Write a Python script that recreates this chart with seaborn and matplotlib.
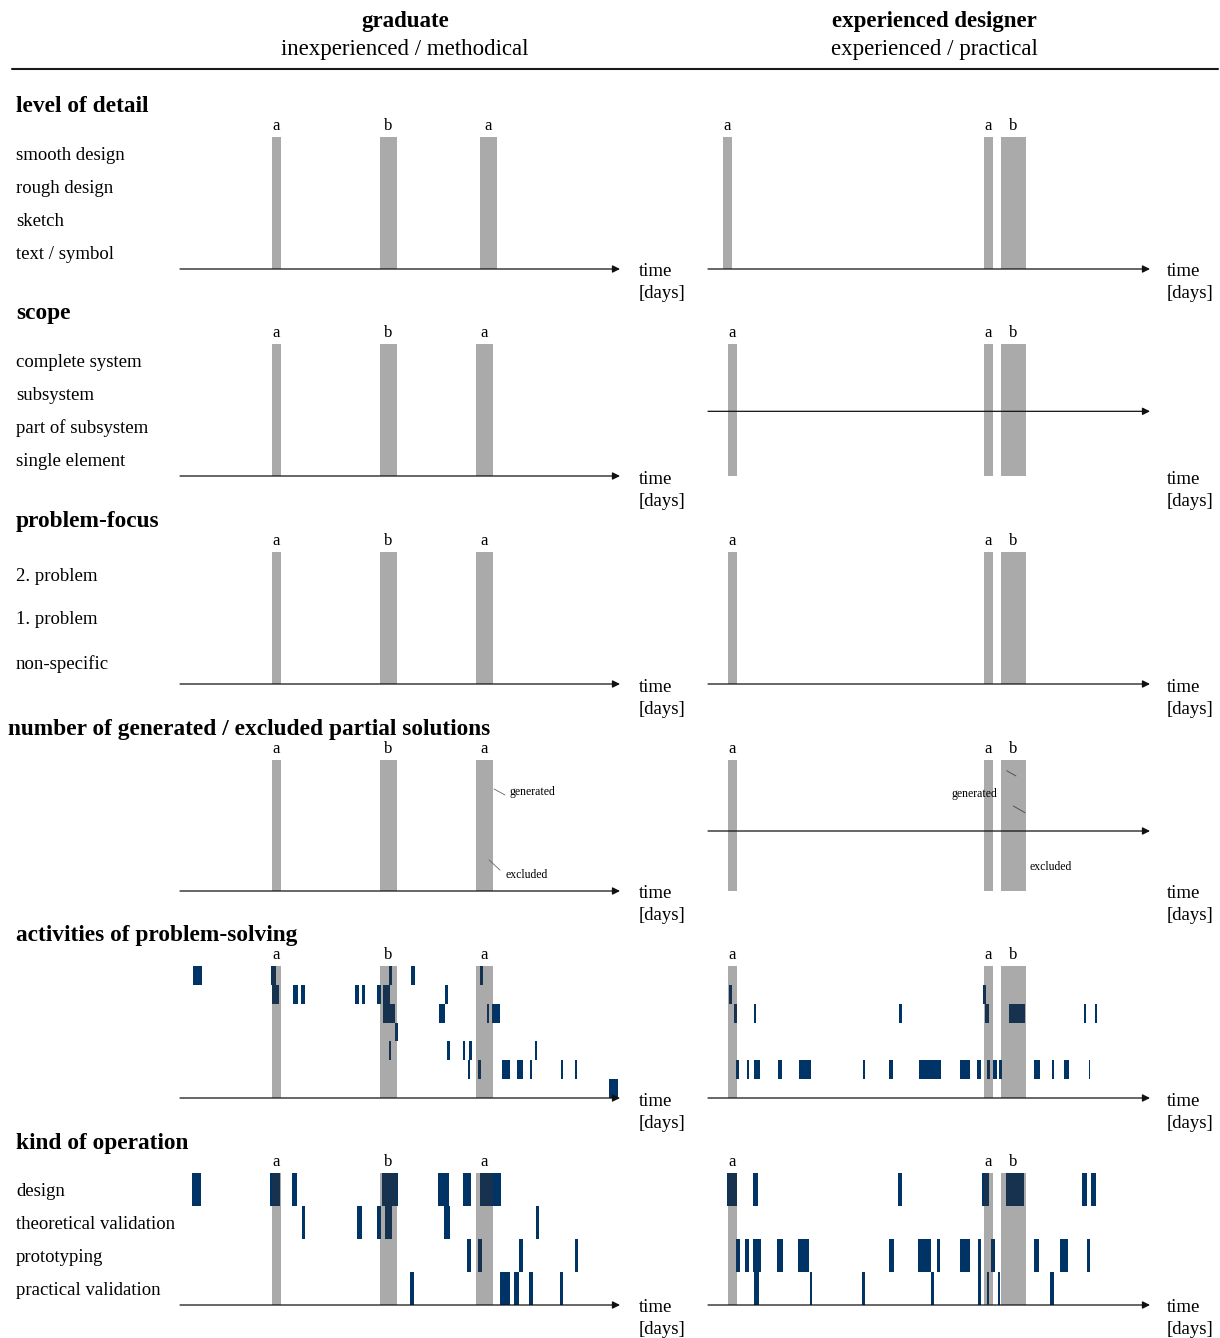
import numpy as np
import pandas as pd
import matplotlib.pyplot as plt
import seaborn as sns
from matplotlib import transforms
from matplotlib.lines import Line2D

#Texts
col_titles = ["graduate", "experienced designer"]
col_subtitles = ["inexperienced / methodical", "experienced / practical"]
section_titles = ["level of detail", "scope", "problem-focus",
                  "number of generated / excluded partial solutions",
                  "activities of problem-solving", "kind of operation"]
detail_levels = ["smooth design", "rough design", "sketch", "text / symbol"]
scope_levels = ["complete system", "subsystem", "part of subsystem", "single element"]
focus_levels = ["2. problem", "1. problem", "non-specific"]
operation_kinds = ["design", "theoretical validation", "prototyping", "practical validation"]

#Phases (days): label, start, end
grad_phase_labels = ["a", "b", "a"]
grad_phase_start = [9.2, 20.0, 29.6]
grad_phase_end = [10.1, 21.7, 31.3]
grad_phase_start_detail = [9.2, 20.0, 30.0]
grad_phase_end_detail = [10.1, 21.7, 31.7]
exp_phase_labels = ["a", "a", "b"]
exp_phase_start = [2.0, 27.6, 29.3]
exp_phase_end = [2.9, 28.5, 31.8]
exp_phase_start_detail = [1.5, 27.6, 29.3]
exp_phase_end_detail = [2.4, 28.5, 31.8]

#Activities of problem-solving, 7 rows top to bottom, (start, end) in days
grad_activity = [
    [(1.33, 2.17), (9.07, 9.6), (20.9, 21.23), (23.07, 23.5), (30.0, 30.33)],
    [(9.17, 9.93), (11.33, 11.77), (12.1, 12.47), (17.5, 17.9), (18.17, 18.5),
     (19.7, 20.1), (20.33, 21.0), (26.5, 26.77)],
    [(20.27, 21.5), (25.9, 26.53), (30.67, 30.9), (31.17, 32.0)],
    [(21.53, 21.8)],
    [(20.9, 21.1), (26.73, 27.0), (28.33, 28.53), (28.93, 29.17), (35.53, 35.73)],
    [(28.77, 29.0), (29.83, 30.07), (32.2, 33.0), (33.67, 34.27), (35.0, 35.2),
     (38.07, 38.27), (39.53, 39.73)],
    [(42.9, 43.77)],
]
exp_activity = [
    [],
    [(2.1, 2.37), (27.53, 27.8)],
    [(2.6, 2.87), (4.6, 4.8), (19.1, 19.37), (27.73, 28.07), (30.13, 31.7),
     (37.6, 37.8), (38.67, 38.93)],
    [],
    [],
    [(2.8, 3.07), (3.87, 4.13), (4.6, 5.2), (7.03, 7.37), (9.1, 10.3), (15.53, 15.73),
     (18.13, 18.47), (21.13, 23.27), (25.2, 26.2), (26.93, 27.3), (27.93, 28.2),
     (28.53, 28.87), (29.13, 29.4), (32.63, 33.2), (34.43, 34.63), (35.6, 36.07),
     (38.07, 38.23)],
    [],
]

#Kind of operation, 4 rows top to bottom
grad_operation = [
    [(1.2, 2.13), (9.0, 10.0), (11.2, 11.73), (20.23, 21.8), (25.8, 26.93),
     (28.33, 29.07), (30.0, 32.13)],
    [(12.2, 12.47), (17.67, 18.23), (19.7, 20.13), (20.5, 21.2), (26.4, 27.0),
     (35.6, 35.93)],
    [(28.67, 29.07), (29.83, 30.17), (33.87, 34.27), (39.53, 39.8)],
    [(23.0, 23.4), (32.0, 33.0), (33.4, 33.87), (34.93, 35.27), (38.0, 38.33)],
]
exp_operation = [
    [(1.87, 2.87), (4.53, 5.03), (19.03, 19.4), (27.37, 28.13), (29.77, 31.6),
     (37.37, 37.93), (38.27, 38.8)],
    [],
    [(2.8, 3.2), (3.7, 4.1), (4.53, 5.33), (6.87, 7.47), (8.97, 10.13), (18.13, 18.6),
     (20.97, 22.3), (22.9, 23.17), (25.17, 26.23), (26.97, 27.3), (28.3, 28.73),
     (32.57, 33.07), (35.23, 36.03), (37.87, 38.2)],
    [(4.6, 5.07), (10.17, 10.4), (15.37, 15.67), (22.33, 22.57), (26.97, 27.27),
     (27.87, 28.13), (28.97, 29.23), (34.2, 34.57)],
]

GRAY = '#aaaaaa'
BLUE = '#003366'
BLUE_ON_GRAY = '#16324f'

sns.set_theme(style='white')
plt.rcParams['font.family'] = ['Liberation Serif', 'DejaVu Serif']
plt.rcParams['text.color'] = 'black'

W, H = 1220, 1338
fig = plt.figure(figsize=(W / 100, H / 100), dpi=100)

def add_ax(x0, x1, ytop, ybot):
    return fig.add_axes([x0 / W, 1 - ybot / H, (x1 - x0) / W, (ybot - ytop) / H])

def fy(y):
    return 1 - y / H

#Header
for cx, t, st in zip([405, 934], col_titles, col_subtitles):
    fig.text(cx / W, fy(21.5), t, ha='center', va='center', fontsize=16.5, weight='bold')
    fig.text(cx / W, fy(49.5), st, ha='center', va='center', fontsize=16.5)
fig.add_artist(Line2D([12 / W, 1218 / W], [fy(69), fy(69)], color='k', lw=1.5))

section_top = [137, 344, 552, 760, 966, 1173]
section_axis = [269, 476, 684, 891, 1098, 1305]
section_rows = [detail_levels, scope_levels, focus_levels, None, None, operation_kinds]
n_rows = [4, 4, 3, 1, 7, 4]
right_arrow_frac = [0, 0.49, 0, 0.458, 0, 0]

for s in range(6):
    top, bot, n = section_top[s], section_axis[s], n_rows[s]
    fig.text((8 if s == 3 else 16) / W, fy(top - 30), section_titles[s],
             ha='left', va='center', fontsize=16.8, weight='bold')
    axL = add_ax(180, 620, top, bot)
    axR = add_ax(708, 1150, top, bot)
    if s == 0:
        phases = [(grad_phase_labels, grad_phase_start_detail, grad_phase_end_detail),
                  (exp_phase_labels, exp_phase_start_detail, exp_phase_end_detail)]
    else:
        phases = [(grad_phase_labels, grad_phase_start, grad_phase_end),
                  (exp_phase_labels, exp_phase_start, exp_phase_end)]
    for k, (ax, (labs, st, en)) in enumerate(zip([axL, axR], phases)):
        ax.set_xlim(0, 44 if k == 0 else 44.2)
        ax.set_ylim(0, n)
        ax.set_axis_off()
        st, en = np.array(st), np.array(en)
        ax.bar(st, n, width=en - st, align='edge', color=GRAY, linewidth=0, zorder=1)
        for lab, a, b in zip(labs, st, en):
            ax.annotate(lab, xy=((a + b) / 2, n), xytext=(0, 5), textcoords='offset points',
                        ha='center', va='baseline', fontsize=12, annotation_clip=False)
        ay = n * (right_arrow_frac[s] if k == 1 else 0)
        ax.annotate('', xy=(1.0, ay), xycoords=('axes fraction', 'data'),
                    xytext=(0.0, ay), textcoords=('axes fraction', 'data'),
                    arrowprops=dict(arrowstyle='-|>', color='#111111', lw=0.9,
                                    mutation_scale=11, shrinkA=0, shrinkB=0),
                    annotation_clip=False)
        tx = 639 if k == 0 else 1167
        fig.text(tx / W, fy(bot + 3), 'time', ha='left', va='center', fontsize=13.5)
        fig.text(tx / W, fy(bot + 25), '[days]', ha='left', va='center', fontsize=13.5)

    #row labels
    if section_rows[s] is not None:
        tr = transforms.blended_transform_factory(fig.transFigure, axL.transData)
        tr = tr + transforms.ScaledTranslation(0, -2 / 100, fig.dpi_scale_trans)
        for i, lab in enumerate(section_rows[s]):
            axL.text(16 / W, n - i - 0.5, lab, transform=tr, ha='left', va='center',
                     fontsize=13.5)

    #blue segments, darker where they lie on a phase bar
    if s in (4, 5):
        data = [grad_activity, exp_activity] if s == 4 else [grad_operation, exp_operation]
        for ax, rows, (labs, pst, pen) in zip([axL, axR], data, phases):
            for i, row in enumerate(rows):
                if not row:
                    continue
                seg = pd.DataFrame(row, columns=['start', 'end'])
                ax.barh(n - 1 - i, seg['end'] - seg['start'], left=seg['start'], height=1,
                        align='edge', color=BLUE, linewidth=0, zorder=2)
                for p0, p1 in zip(pst, pen):
                    lo = np.maximum(seg['start'], p0)
                    hi = np.minimum(seg['end'], p1)
                    keep = hi > lo
                    if keep.any():
                        ax.barh(n - 1 - i, (hi - lo)[keep], left=lo[keep], height=1,
                                align='edge', color=BLUE_ON_GRAY, linewidth=0, zorder=3)

    #generated / excluded notes
    if s == 3:
        axL.plot([31.4, 32.5], [0.779, 0.733], color='#666666', lw=0.6, zorder=3)
        axL.text(33.0, 0.756, 'generated', fontsize=8.5, va='center', ha='left')
        axL.plot([30.9, 32.0], [0.237, 0.160], color='#666666', lw=0.6, zorder=3)
        axL.text(32.5, 0.122, 'excluded', fontsize=8.5, va='center', ha='left')
        axR.plot([29.87, 30.8], [0.918, 0.878], color='#444444', lw=0.6, zorder=3)
        axR.plot([30.53, 31.7], [0.649, 0.598], color='#444444', lw=0.6, zorder=3)
        axR.text(28.9, 0.74, 'generated', fontsize=8.5, va='center', ha='right', zorder=4)
        axR.text(32.2, 0.185, 'excluded', fontsize=8.5, va='center', ha='left')

fig.savefig('out.png', dpi=100)
